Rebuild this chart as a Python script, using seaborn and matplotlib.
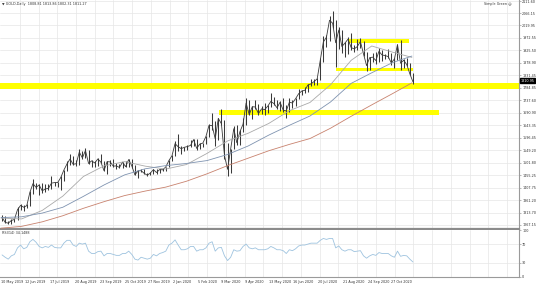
import numpy as np
import pandas as pd
import matplotlib
matplotlib.use("Agg")
import matplotlib.pyplot as plt
import seaborn as sns

sns.set_theme(style="white")
plt.rcParams["font.family"] = ["DejaVu Sans"]

# ---------------- data (3-trading-day bars, from 10 May 2019) ----------------
bar_high = [1304, 1300, 1281, 1289, 1291, 1334, 1348, 1341, 1348, 1394,
            1439, 1425, 1421, 1424, 1423, 1420, 1453, 1430, 1431, 1450,
            1475, 1510, 1535, 1526, 1512, 1555, 1546, 1557, 1551, 1512,
            1510, 1518, 1535, 1510, 1508, 1513, 1516, 1500, 1496, 1506,
            1510, 1516, 1516, 1492, 1474, 1478, 1478, 1465, 1468, 1480,
            1477, 1478, 1481, 1487, 1514, 1530, 1582, 1611, 1565, 1563,
            1567, 1588, 1592, 1591, 1575, 1578, 1604, 1649, 1689, 1660,
            1672, 1703, 1664, 1575, 1555, 1640, 1643, 1626, 1672, 1747,
            1740, 1715, 1738, 1722, 1715, 1726, 1718, 1765, 1751, 1740,
            1733, 1745, 1718, 1745, 1740, 1745, 1779, 1775, 1789, 1797,
            1818, 1818, 1820, 1898, 1981, 1984, 2055, 2075, 2040, 2015,
            2002, 1958, 1976, 1992, 1945, 1967, 1973, 1962, 1918, 1901,
            1917, 1921, 1933, 1925, 1913, 1932, 1915, 1897, 1951, 1965,
            1892, 1896, 1876, 1840]
bar_low = [1281, 1274, 1269, 1272, 1277, 1286, 1322, 1321, 1332, 1338,
           1385, 1401, 1381, 1386, 1392, 1400, 1403, 1413, 1410, 1400,
           1432, 1470, 1495, 1492, 1491, 1495, 1516, 1518, 1497, 1484,
           1484, 1490, 1500, 1470, 1459, 1491, 1487, 1480, 1482, 1483,
           1485, 1485, 1481, 1455, 1446, 1466, 1458, 1452, 1454, 1460,
           1458, 1462, 1472, 1472, 1484, 1507, 1526, 1547, 1536, 1546,
           1551, 1560, 1565, 1548, 1553, 1562, 1573, 1598, 1626, 1565,
           1588, 1645, 1517, 1451, 1463, 1554, 1567, 1570, 1617, 1643,
           1680, 1667, 1705, 1680, 1684, 1683, 1690, 1712, 1718, 1705,
           1696, 1694, 1671, 1692, 1710, 1715, 1741, 1757, 1765, 1768,
           1792, 1794, 1795, 1815, 1882, 1940, 1960, 2010, 1863, 1930,
           1917, 1900, 1911, 1925, 1918, 1925, 1936, 1904, 1848, 1851,
           1880, 1873, 1882, 1885, 1893, 1895, 1872, 1860, 1890, 1850,
           1860, 1866, 1832, 1800]
bar_close = [1296, 1277, 1274, 1284, 1288, 1325, 1341, 1334, 1340, 1390,
             1423, 1409, 1418, 1396, 1403, 1405, 1425, 1427, 1427, 1446,
             1474, 1497, 1516, 1496, 1498, 1542, 1520, 1548, 1499, 1509,
             1501, 1516, 1504, 1472, 1506, 1505, 1489, 1490, 1484, 1504,
             1487, 1514, 1490, 1456, 1471, 1472, 1462, 1455, 1463, 1476,
             1465, 1476, 1475, 1486, 1510, 1528, 1574, 1562, 1555, 1560,
             1563, 1567, 1589, 1556, 1572, 1576, 1601, 1643, 1642, 1592,
             1669, 1649, 1529, 1477, 1553, 1630, 1577, 1619, 1647, 1727,
             1683, 1713, 1712, 1687, 1705, 1702, 1715, 1733, 1725, 1709,
             1730, 1700, 1697, 1730, 1727, 1743, 1762, 1772, 1775, 1795,
             1799, 1808, 1818, 1887, 1957, 1975, 2039, 2028, 1954, 2002,
             1940, 1953, 1968, 1936, 1931, 1940, 1959, 1912, 1868, 1898,
             1900, 1887, 1922, 1908, 1906, 1902, 1878, 1893, 1947, 1877,
             1888, 1872, 1837, 1807]
rsi14 = [47, 42, 38, 45, 48, 62, 68, 60, 63, 75,
         80, 74, 65, 62, 65, 63, 68, 63, 62, 62,
         72, 78, 78, 68, 65, 72, 70, 72, 55, 50,
         50, 54, 55, 45, 50, 50, 48, 46, 46, 50,
         50, 55, 48, 38, 36, 42, 40, 38, 40, 48,
         45, 50, 52, 55, 68, 72, 79, 68, 58, 58,
         60, 65, 65, 55, 58, 58, 62, 72, 75, 55,
         62, 63, 45, 35, 42, 58, 55, 56, 65, 70,
         62, 60, 62, 58, 58, 58, 60, 65, 62, 58,
         58, 56, 50, 58, 56, 60, 66, 68, 68, 70,
         72, 72, 72, 78, 82, 80, 82, 82, 62, 66,
         58, 55, 58, 58, 54, 55, 56, 45, 40, 45,
         48, 46, 52, 50, 50, 50, 45, 42, 55, 44,
         46, 45, 38, 32]

ma_day = [0, 20, 40, 60, 80, 100, 120, 140, 160, 180, 200, 220, 240, 260,
          280, 300, 320, 340, 360, 380, 399]
sma_fast = [1293, 1290, 1322, 1376, 1450, 1490, 1506, 1489, 1478, 1495, 1537,
            1584, 1613, 1650, 1698, 1729, 1796, 1888, 1942, 1919, 1899]
sma_mid = [1295, 1298, 1312, 1334, 1375, 1418, 1456, 1479, 1491, 1499, 1510,
           1533, 1565, 1606, 1643, 1678, 1731, 1801, 1841, 1879, 1904]
sma_slow = [1255, 1262, 1279, 1302, 1330, 1355, 1378, 1395, 1410, 1432, 1460,
            1491, 1519, 1547, 1571, 1593, 1632, 1677, 1720, 1762, 1803]

zone_low = [1780, 1682, 1848, 1953]
zone_high = [1803, 1700, 1860, 1968]
zone_from = [-5, 212, 325, 338]
zone_to = [510, 425, 400, 396]

date_labels = ["10 May 2019", "12 Jun 2019", "17 Jul 2019", "20 Aug 2019",
               "23 Sep 2019", "25 Oct 2019", "27 Nov 2019", "2 Jan 2020",
               "5 Feb 2020", "9 Mar 2020", "9 Apr 2020", "13 May 2020",
               "16 Jun 2020", "20 Jul 2020", "21 Aug 2020", "24 Sep 2020",
               "27 Oct 2020"]
date_label_day = [0, 23, 48, 72, 96, 120, 143, 167, 191, 214, 237, 260, 284,
                  308, 332, 356, 379]

price_ticks = [2111.60, 2066.15, 2019.95, 1972.55, 1925.50, 1878.90, 1831.45,
               1784.85, 1737.60, 1690.90, 1643.35, 1596.45, 1549.20, 1501.80,
               1455.25, 1407.75, 1361.20, 1313.70, 1267.15]
rsi_ticks = [100, 70, 30, 0]
last_price = 1810.95
title_text = "GOLD,Daily  1808.81 1813.86 1802.31 1811.27"
rsi_title = "RSI(14) 34.1488"
corner_text = "Simple Green"

# ---------------- frames ----------------
bars = pd.DataFrame({"high": bar_high, "low": bar_low, "close": bar_close,
                     "rsi": rsi14})
bars["day"] = np.arange(len(bars)) * 3 + 1
ma = pd.DataFrame({"day": ma_day, "fast": sma_fast, "mid": sma_mid, "slow": sma_slow})

# ---------------- figure ----------------
W, H = 536, 284
fig = plt.figure(figsize=(W / 100, H / 100), dpi=100)
ax = fig.add_axes([0, 1 - 229 / H, 519 / W, 229 / H])
axr = fig.add_axes([0, 1 - 277 / H, 519 / W, 47 / H], sharex=ax)

XMIN, XMAX = -1, 503
ax.set_xlim(XMIN, XMAX)
ax.set_ylim(1252.0, 2115.4)

grid_c = "#e6e6e6"
for t in price_ticks:
    ax.axhline(t, color=grid_c, lw=0.5, zorder=0)
for d in np.arange(18.2, XMAX, 18.2):
    ax.axvline(d, color=grid_c, lw=0.5, zorder=0)
    axr.axvline(d, color=grid_c, lw=0.5, zorder=0)
for t in rsi_ticks[1:-1]:
    axr.axhline(t, color=grid_c, lw=0.5, zorder=0)

# yellow zones
for lo, hi, a, b in zip(zone_low, zone_high, zone_from, zone_to):
    ax.fill_between([a, b], [lo, lo], [hi, hi], color="#ffff00", lw=0, zorder=1)

# price bars: high-low wicks plus close path
ax.vlines(bars["day"], bars["low"], bars["high"], color="#3a3a3a", lw=0.75, zorder=3)
sns.lineplot(data=bars, x="day", y="close", ax=ax, color="#3a3a3a", lw=0.6, zorder=3)

# moving averages
sns.lineplot(data=ma, x="day", y="fast", ax=ax, color="#a9a9a9", lw=0.6, zorder=4)
sns.lineplot(data=ma, x="day", y="mid", ax=ax, color="#7f93b0", lw=0.6, zorder=4)
sns.lineplot(data=ma, x="day", y="slow", ax=ax, color="#c8826e", lw=0.6, zorder=4)

# RSI
sns.lineplot(data=bars, x="day", y="rsi", ax=axr, color="#9ec3df", lw=0.6)
axr.set_ylim(0, 100)

fs = 2.4
tc = "#333333"
for a in (ax, axr):
    a.set_xlabel("")
    a.set_ylabel("")
    a.set_facecolor("white")
    for s in ("top", "left"):
        a.spines[s].set_visible(False)
    a.spines["right"].set_color("#9a9a9a")
    a.spines["right"].set_linewidth(0.8)
    a.yaxis.tick_right()
    a.tick_params(axis="y", labelsize=fs, colors="#9a9a9a", labelcolor=tc,
                  length=1.5, width=0.5, pad=0.8)
ax.spines["bottom"].set_color("#8c8c8c")
ax.spines["bottom"].set_linewidth(1.6)
axr.spines["bottom"].set_color("#9a9a9a")
axr.spines["bottom"].set_linewidth(0.8)

ax.set_yticks(price_ticks)
ax.set_yticklabels([f"{t:.2f}" for t in price_ticks])
axr.set_yticks(rsi_ticks)
axr.set_yticklabels([str(t) for t in rsi_ticks])
ax.tick_params(axis="x", bottom=False, labelbottom=False)
axr.set_xticks(date_label_day)
axr.set_xticklabels(date_labels)
axr.tick_params(axis="x", labelsize=fs, labelcolor=tc, colors="#9a9a9a",
                length=1.2, width=0.5, pad=0.8)
for lab in axr.get_xticklabels():
    lab.set_ha("left")

# last price tag
ax.text(1.003, last_price, f"{last_price:.2f}", transform=ax.get_yaxis_transform(),
        fontsize=fs, color="white", va="center", ha="left",
        bbox=dict(boxstyle="square,pad=0.15", fc="black", ec="black"), clip_on=False)

ax.text(0.004, 0.993, "\u25BC " + title_text, transform=ax.transAxes, fontsize=fs,
        color=tc, va="top", ha="left")
ax.text(0.985, 0.993, corner_text + " \u263A", transform=ax.transAxes, fontsize=fs,
        color=tc, va="top", ha="right")
axr.text(0.004, 0.97, rsi_title, transform=axr.transAxes, fontsize=fs,
         color=tc, va="top", ha="left")

fig.savefig("out.png", dpi=100)
